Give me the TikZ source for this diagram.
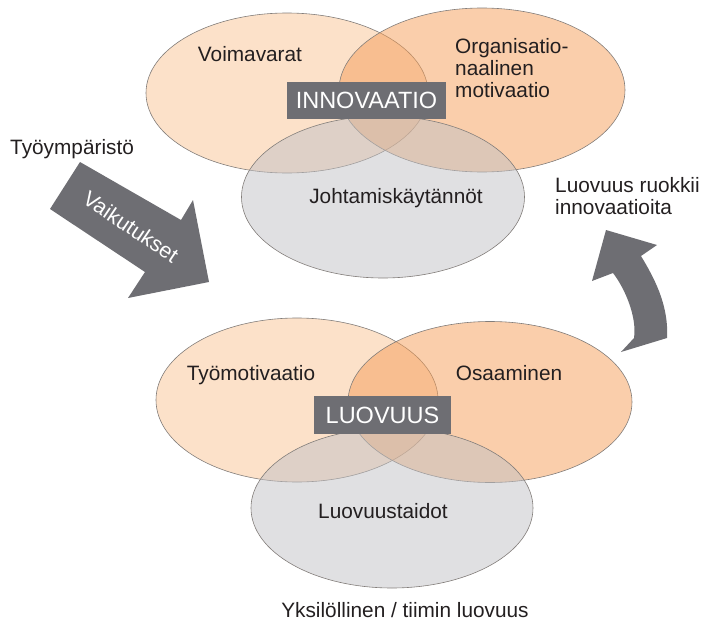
\documentclass[tikz,border=0pt]{standalone}
\usepackage{fontspec}
\setmainfont{Liberation Sans}
\usetikzlibrary{shapes.geometric}
\definecolor{peachL}{RGB}{249,195,147}
\definecolor{peachR}{RGB}{245,157,87}
\definecolor{grayE}{RGB}{193,193,197}
\definecolor{boxgray}{RGB}{110,110,115}
\definecolor{edgegray}{RGB}{130,125,122}
\definecolor{txt}{RGB}{35,31,32}
\tikzset{
  ell/.style={ellipse, draw=edgegray, line width=0.6pt, fill opacity=0.5, inner sep=0pt},
  lbl/.style={inner sep=0pt, text=txt, font=\fontsize{20.8}{22}\selectfont},
  tagbox/.style={fill=boxgray, text=white, inner sep=0pt, font=\fontsize{23.5}{26}\selectfont},
  bigarrow/.style={fill=boxgray, draw=none}
}
\begin{document}
\begin{tikzpicture}[x=1pt,y=-1pt]
\path[use as bounding box] (0,0) rectangle (705,629);
% top group
\node[ell, fill=peachL, minimum width=282pt, minimum height=160pt] (voima) at (287,93) {};
\node[ell, fill=peachR, minimum width=286pt, minimum height=164pt] (orgmot) at (482,90) {};
\node[ell, fill=grayE, minimum width=283pt, minimum height=162pt] (johto) at (383,197) {};
\node[tagbox, minimum width=159pt, minimum height=37pt] (innov) at (366.5,100.5) {INNOVAATIO};
\node[lbl, anchor=base] (tvoima) at (250,61) {Voimavarat};
\node[lbl, anchor=north west, align=left] (torg) at (455,38) {Organisatio-\\naalinen\\motivaatio};
\node[lbl, anchor=base] (tjohto) at (396,203) {Johtamiskäytännöt};
% bottom group
\node[ell, fill=peachL, minimum width=282pt, minimum height=164pt] (tyomot) at (297,400) {};
\node[ell, fill=peachR, minimum width=284pt, minimum height=161pt] (osaam) at (490,402) {};
\node[ell, fill=grayE, minimum width=282pt, minimum height=160pt] (luovt) at (392,508) {};
\node[tagbox, minimum width=137pt, minimum height=38pt] (luov) at (382.5,415) {LUOVUUS};
\node[lbl, anchor=base] (ttyomot) at (251,380) {Työmotivaatio};
\node[lbl, anchor=base] (tosaam) at (509,380) {Osaaminen};
\node[lbl, anchor=base] (tluovt) at (383,518) {Luovuustaidot};
% side labels
\node[lbl, anchor=base west] (tymp) at (10,154) {Työympäristö};
\node[lbl, anchor=north west, align=left] (truok) at (555,177.5) {Luovuus ruokkii\\innovaatioita};
\node[lbl, anchor=base] (tyks) at (405,617) {Yksilöllinen / tiimin luovuus};
% left block arrow
\fill[bigarrow] (50,209) -- (80,162) -- (181,220) -- (193,200) -- (209,282) -- (128,298) -- (145,272) -- cycle;
\node[inner sep=0pt, text=white, font=\fontsize{21.5}{24}\selectfont, rotate=-34] (vaik) at (131,227) {Vaikutukset};
% right curved arrow
\fill[bigarrow] (606,230) -- (657,245) -- (641,256)
  .. controls (653,276) and (669,304) .. (667,338)
  -- (621,352) -- (634,338)
  .. controls (637,318) and (626,290) .. (613,273)
  -- (592,281) -- cycle;
\end{tikzpicture}
\end{document}
